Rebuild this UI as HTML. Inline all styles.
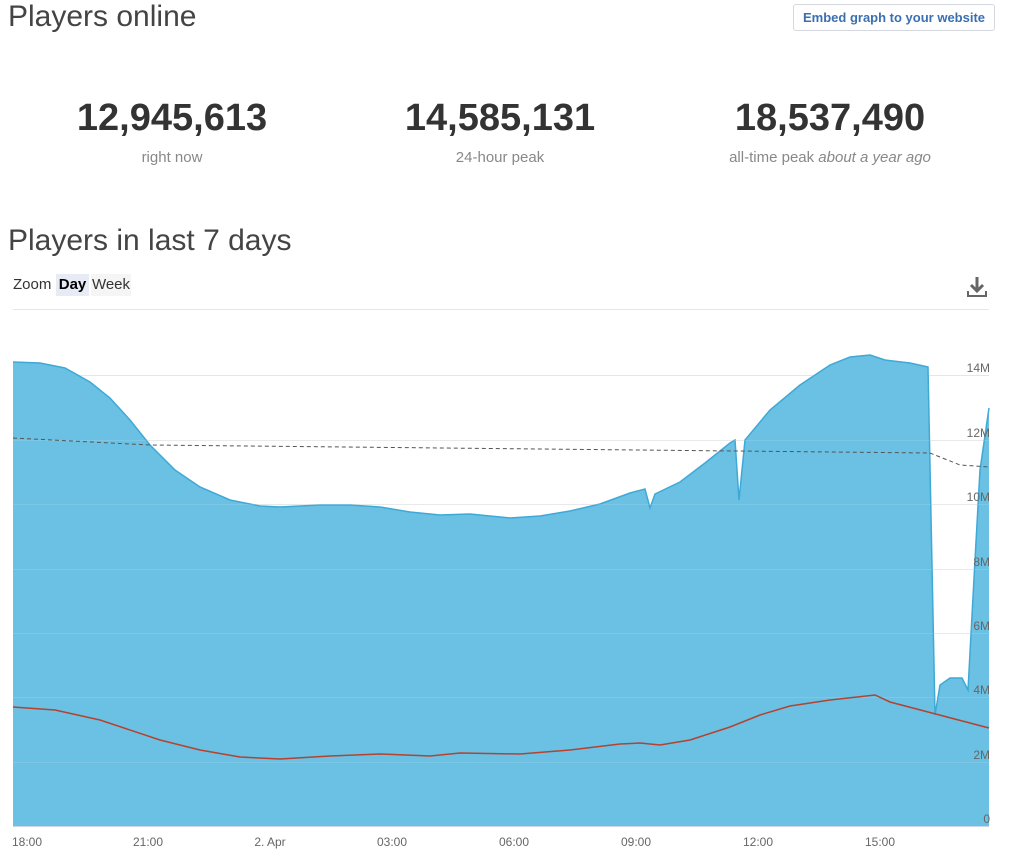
<!DOCTYPE html>
<html><head><meta charset="utf-8"><style>
body{margin:0;width:1019px;height:868px;background:#fff;font-family:"Liberation Sans",sans-serif;position:relative;overflow:hidden}
.a{position:absolute}
</style></head><body>
<div class="a" style="left:8px;top:0;font-size:30px;color:#444;font-weight:300">Players online</div>
<div class="a" style="left:793px;top:4px;width:200px;height:25px;border:1px solid #d5d9df;border-radius:3px;font-size:13px;font-weight:bold;color:#3a6fb0;text-align:center;line-height:25px">Embed graph to your website</div>
<div class="a" style="left:22px;top:97px;width:300px;text-align:center;font-size:38px;font-weight:bold;color:#333">12,945,613</div>
<div class="a" style="left:22px;top:149px;width:300px;text-align:center;font-size:15px;color:#888">right now</div>
<div class="a" style="left:350px;top:97px;width:300px;text-align:center;font-size:38px;font-weight:bold;color:#333">14,585,131</div>
<div class="a" style="left:350px;top:149px;width:300px;text-align:center;font-size:15px;color:#888">24-hour peak</div>
<div class="a" style="left:680px;top:97px;width:300px;text-align:center;font-size:38px;font-weight:bold;color:#333">18,537,490</div>
<div class="a" style="left:680px;top:149px;width:300px;text-align:center;font-size:15px;color:#888">all-time peak <i>about a year ago</i></div>
<div class="a" style="left:8px;top:224px;font-size:30px;color:#444;font-weight:300">Players in last 7 days</div>
<div class="a" style="left:13px;top:276px;font-size:15px;color:#333">Zoom</div>
<div class="a" style="left:56px;top:274px;width:33px;height:22px;background:#e6ebf5;font-size:15px;font-weight:bold;color:#000;text-align:center;line-height:22px">Day</div>
<div class="a" style="left:91px;top:274px;width:40px;height:22px;background:#f5f5f5;font-size:15px;color:#333;text-align:center;line-height:22px">Week</div>
<svg class="a" style="left:965px;top:275px" width="24" height="24"><path d="M12 2v13M6 10l6 6 6-6" stroke="#666" stroke-width="3" fill="none"/><path d="M3 16v5h18v-5" stroke="#666" stroke-width="2" fill="none"/></svg>
<div class="a" style="left:13px;top:309px;width:976px;height:1px;background:#e6e6e6"></div>
<svg class="a" style="left:0;top:0" width="1019" height="868">
<g stroke="#e6e6e6" stroke-width="1">
<line x1="13" x2="989" y1="375.5" y2="375.5"/><line x1="13" x2="989" y1="440.5" y2="440.5"/><line x1="13" x2="989" y1="504.5" y2="504.5"/><line x1="13" x2="989" y1="569.5" y2="569.5"/><line x1="13" x2="989" y1="633.5" y2="633.5"/><line x1="13" x2="989" y1="697.5" y2="697.5"/><line x1="13" x2="989" y1="762.5" y2="762.5"/>
</g>
<path d="M13,362 L40,363 65,368 90,382 110,398 130,420 150,445 175,470 200,487 230,500 260,506 280,507 320,505 350,505 380,507 410,512 440,515 470,514 510,518 540,516 570,511 600,504 630,493 645,489 650,508 655,494 680,482 705,463 730,443 735,440 739,500 745,440 770,410 800,385 830,365 850,357 870,355 885,360 910,363 928,367 935,715 940,685 950,678 962,678 968,690 975,560 980,470 989,408 L989,826 L13,826 Z" fill="#6ac1e3"/>
<polyline points="13,362 40,363 65,368 90,382 110,398 130,420 150,445 175,470 200,487 230,500 260,506 280,507 320,505 350,505 380,507 410,512 440,515 470,514 510,518 540,516 570,511 600,504 630,493 645,489 650,508 655,494 680,482 705,463 730,443 735,440 739,500 745,440 770,410 800,385 830,365 850,357 870,355 885,360 910,363 928,367 935,715 940,685 950,678 962,678 968,690 975,560 980,470 989,408" fill="none" stroke="#3fa9d6" stroke-width="1.5"/>
<g stroke="#ffffff" stroke-opacity="0.12" stroke-width="1">
<line x1="13" x2="989" y1="440.5" y2="440.5"/><line x1="13" x2="989" y1="504.5" y2="504.5"/><line x1="13" x2="989" y1="569.5" y2="569.5"/><line x1="13" x2="989" y1="633.5" y2="633.5"/><line x1="13" x2="989" y1="697.5" y2="697.5"/><line x1="13" x2="989" y1="762.5" y2="762.5"/>
</g>
<polyline points="13,438 150,445 930,453 960,465 989,467" fill="none" stroke="#555" stroke-width="1" stroke-dasharray="4,3"/>
<polyline points="13,707 55,710 100,720 160,740 200,750 240,757 280,759 330,756 380,754 430,756 460,753 520,754 570,750 620,744 640,743 660,745 690,740 730,727 760,715 790,706 830,700 875,695 890,702 989,728" fill="none" stroke="#b5422e" stroke-width="1.5"/>
<line x1="13" x2="989" y1="826.5" y2="826.5" stroke="#ccd6eb"/>
<g font-size="12" fill="#666" text-anchor="middle">
<text x="27" y="846">18:00</text><text x="148" y="846">21:00</text><text x="270" y="846">2. Apr</text><text x="392" y="846">03:00</text><text x="514" y="846">06:00</text><text x="636" y="846">09:00</text><text x="758" y="846">12:00</text><text x="880" y="846">15:00</text>
</g>
<g font-size="12" fill="#666" text-anchor="end">
<text x="990" y="372">14M</text><text x="990" y="437">12M</text><text x="990" y="501">10M</text><text x="990" y="566">8M</text><text x="990" y="630">6M</text><text x="990" y="694">4M</text><text x="990" y="759">2M</text><text x="990" y="823">0</text>
</g>
</svg>
</body></html>
